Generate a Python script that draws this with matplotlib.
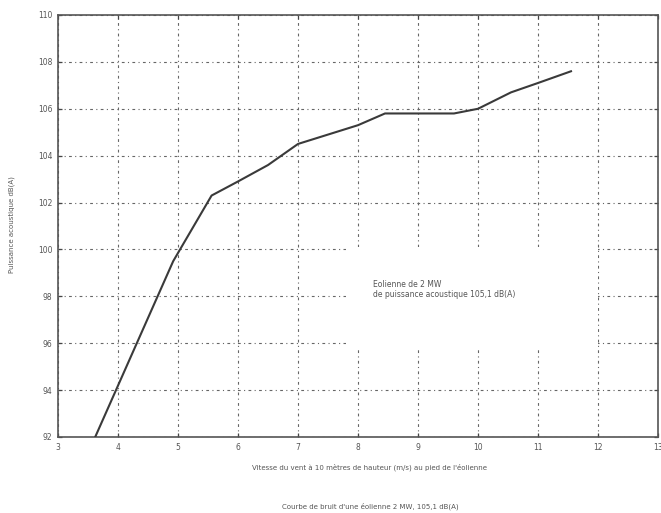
import matplotlib.pyplot as plt
from matplotlib.patches import Rectangle

# Wind speed (m/s) and sound power level (dB(A))
wind_speed = [3.62, 4.92, 5.56, 6.0, 6.5, 7.0, 8.0, 8.45, 9.0, 9.6, 10.0, 10.55, 11.0, 11.55]
sound_power = [92.0, 99.5, 102.3, 102.9, 103.6, 104.5, 105.3, 105.8, 105.8, 105.8, 106.0, 106.7, 107.1, 107.6]

x_ticks = list(range(3, 14))
y_ticks = list(range(92, 111, 2))

x_label = "Vitesse du vent à 10 mètres de hauteur (m/s) au pied de l'éolienne"
y_label = "Puissance acoustique dB(A)"
caption = "Courbe de bruit d'une éolienne 2 MW, 105,1 dB(A)"
note = "Eolienne de 2 MW\nde puissance acoustique 105,1 dB(A)"

text_color = "#555555"

fig = plt.figure(figsize=(6.61, 5.13), dpi=100)
ax = fig.add_axes([58 / 661, 1 - 437 / 513, 600 / 661, 422 / 513])

ax.plot(wind_speed, sound_power, color="#3a3a3a", linewidth=1.5, zorder=4)

ax.set_xlim(3, 13)
ax.set_ylim(92, 110)
ax.set_xticks(x_ticks)
ax.set_yticks(y_ticks)
ax.tick_params(direction="in", top=True, right=True, length=3, width=0.9,
               labelsize=5.5, labelcolor=text_color, color="#444444", pad=4)

ax.grid(True, color="#666666", linestyle=(0, (2.5, 3, 1, 3)), linewidth=0.8)
ax.set_axisbelow(True)

for spine in ax.spines.values():
    spine.set_color("#555555")
    spine.set_linewidth(1.2)

# white box behind the annotation hides the grid there
ax.add_patch(Rectangle((7.8, 95.8), 4.2, 4.3, facecolor="white",
                       edgecolor="none", zorder=2))
ax.text(8.25, 98.3, note, fontsize=5.5, color=text_color,
        va="center", ha="left", linespacing=1.1, zorder=5)

fig.text(370 / 661, 1 - 467 / 513, x_label, fontsize=5, color=text_color,
         ha="center", va="center")
fig.text(12 / 661, 1 - 225 / 513, y_label, fontsize=5, color=text_color,
         ha="center", va="center", rotation=90)
fig.text(370 / 661, 1 - 506 / 513, caption, fontsize=5, color=text_color,
         ha="center", va="center")

fig.savefig("out.png", dpi=100)
